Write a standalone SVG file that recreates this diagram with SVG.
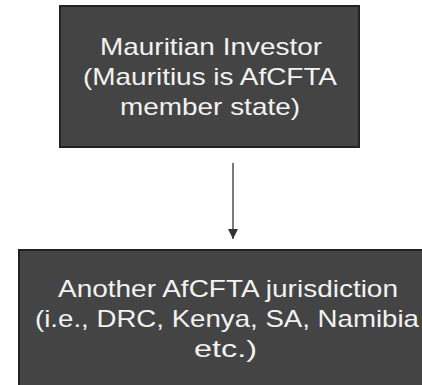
<svg xmlns="http://www.w3.org/2000/svg" width="422" height="385" viewBox="0 0 422 385">
<style>
.box{fill:#444444;stroke:#222222;stroke-width:2}
.t{font-family:"Liberation Sans",Arial,sans-serif;font-size:24px;fill:#f2f2f2}
.c{stroke:#333333;stroke-width:1.3;fill:none}
</style>
<defs>
<marker id="ah" markerWidth="10" markerHeight="10" refX="10" refY="5" orient="auto" markerUnits="userSpaceOnUse">
<path d="M0,0 L10,5 L0,10 Z" fill="#333333"/>
</marker>
</defs>
<rect width="422" height="385" fill="#ffffff"/>
<g id="connectors">
<line class="c" x1="233" y1="163" x2="233" y2="239" marker-end="url(#ah)"/>
</g>
<g id="mauritian-investor">
<rect class="box" x="60" y="6" width="299" height="141"/>
<text class="t" x="100" y="55" textLength="222" lengthAdjust="spacingAndGlyphs">Mauritian Investor</text>
<text class="t" x="83" y="85" textLength="254" lengthAdjust="spacingAndGlyphs">(Mauritius is AfCFTA</text>
<text class="t" x="120" y="115" textLength="180" lengthAdjust="spacingAndGlyphs">member state)</text>
</g>
<g id="afcfta-jurisdiction">
<rect class="box" x="19" y="250" width="420" height="150"/>
<text class="t" x="58" y="297" textLength="340" lengthAdjust="spacingAndGlyphs">Another AfCFTA jurisdiction</text>
<text class="t" x="35" y="327" textLength="384" lengthAdjust="spacingAndGlyphs">(i.e., DRC, Kenya, SA, Namibia</text>
<text class="t" x="194" y="357" textLength="63" lengthAdjust="spacingAndGlyphs">etc.)</text>
</g>
</svg>
